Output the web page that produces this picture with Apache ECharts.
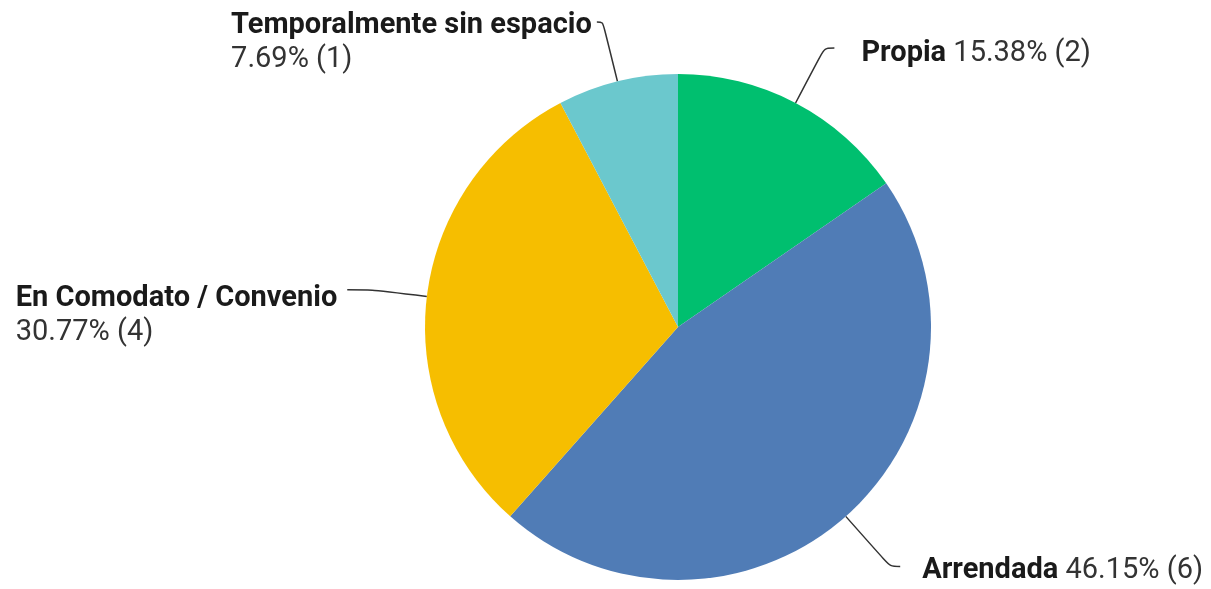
<!DOCTYPE html>
<html>
<head>
<meta charset="utf-8">
<script src="https://cdn.jsdelivr.net/npm/echarts@6/dist/echarts.min.js"></script>
<style>
html,body{margin:0;padding:0;background:#fff;}
#main{width:1211px;height:589px;}
</style>
</head>
<body>
<div id="main"></div>
<script>
const categories = ['Propia', 'Arrendada', 'En Comodato / Convenio', 'Temporalmente sin espacio'];
const counts = [2, 6, 4, 1];
const colors = ['#00BF6F', '#507CB6', '#F6BE00', '#6BC8CD'];

// per-slice label tweaks (style only)
const labelStyles = [
  { twoLines: false, length: 62, length2: 10, dist: 27, padTop: 12 },
  { twoLines: false, length: 67, length2: 10, dist: 22, padTop: 8 },
  { twoLines: true,  length: 55, length2: 25, dist: 10, padTop: 52 },
  { twoLines: true,  length: 61, length2: 6,  dist: 5,  padTop: 42 }
];

const total = counts.reduce((a, b) => a + b, 0);

const data = categories.map((name, i) => {
  const s = labelStyles[i];
  return {
    name: name,
    value: counts[i],
    itemStyle: { color: colors[i] },
    label: { distanceToLabelLine: s.dist, padding: [s.padTop, 0, 0, 0] },
    labelLine: { length: s.length, length2: s.length2 }
  };
});

const chart = echarts.init(document.getElementById('main'), null, { renderer: 'canvas' });
chart.setOption({
  animation: false,
  backgroundColor: '#ffffff',
  series: [{
    type: 'pie',
    center: [678, 327],
    radius: 253,
    startAngle: 90,
    clockwise: true,
    avoidLabelOverlap: false,
    data: data,
    itemStyle: { borderWidth: 0 },
    emphasis: { disabled: true },
    label: {
      show: true,
      position: 'outside',
      fontFamily: 'Roboto',
      fontSize: 29,
      color: '#222',
      formatter: function (p) {
        const sep = labelStyles[p.dataIndex].twoLines ? '\n' : ' ';
        const pct = (p.value / total * 100).toFixed(2);
        return '{b|' + p.name + '}' + sep + '{n|' + pct + '% (' + p.value + ')}';
      },
      rich: {
        b: { fontFamily: 'Roboto', fontSize: 29, fontWeight: 'bold', color: '#1a1a1a', lineHeight: 34, align: 'left' },
        n: { fontFamily: 'Roboto', fontSize: 29, color: '#333', lineHeight: 34, align: 'left' }
      }
    },
    labelLine: {
      show: true,
      smooth: 0.3,
      lineStyle: { color: '#333', width: 1.5 }
    }
  }]
});
</script>
</body>
</html>
